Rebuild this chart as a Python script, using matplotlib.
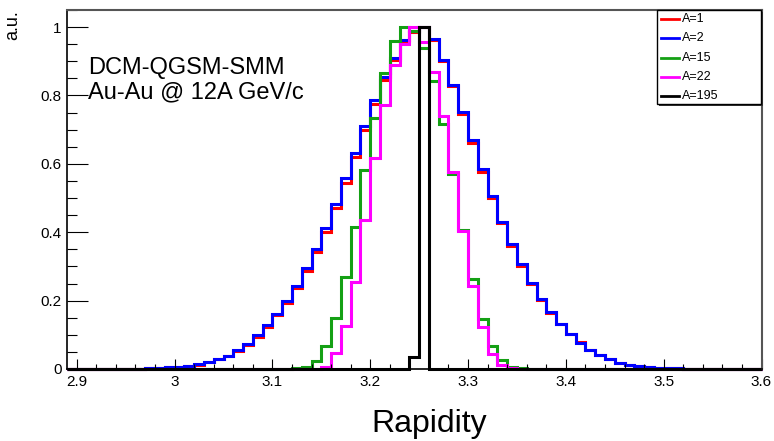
import numpy as np
import matplotlib
matplotlib.use("Agg")
import matplotlib.pyplot as plt
from matplotlib.ticker import MultipleLocator
from matplotlib.patches import Rectangle
from matplotlib.lines import Line2D

plt.rcParams['font.family'] = ['Liberation Sans', 'DejaVu Sans']

# ---------------- data ----------------
bin_lo = 2.89
bin_width = 0.01
n_bins = 71

labels = ["A=1", "A=2", "A=15", "A=22", "A=195"]
colors = ["#ff0000", "#0000ff", "#14a014", "#ff00ff", "#000000"]

# A=1 (bins starting at 2.89 ... 3.59)
a1 = [0, 0, 0, 0, 0, 0.0005, 0.001, 0.001, 0.002, 0.004, 0.005,
      0.007, 0.010, 0.013, 0.020, 0.028, 0.037, 0.053, 0.069, 0.094, 0.124,
      0.157, 0.193, 0.237, 0.286, 0.342, 0.402, 0.470, 0.545, 0.621, 0.699,
      0.775, 0.845, 0.905, 0.958, 0.987, 1.000, 0.963, 0.901, 0.827, 0.746,
      0.662, 0.577, 0.499, 0.426, 0.360, 0.302, 0.248, 0.203, 0.165, 0.133,
      0.103, 0.078, 0.057, 0.042, 0.029, 0.019, 0.013, 0.009, 0.006, 0.004,
      0.003, 0.002, 0.001, 0.001, 0, 0, 0, 0, 0, 0]

# A=2
a2 = [0, 0, 0, 0, 0, 0.0005, 0.001, 0.001, 0.002, 0.004, 0.005,
      0.007, 0.010, 0.014, 0.021, 0.029, 0.039, 0.056, 0.072, 0.098, 0.128,
      0.161, 0.198, 0.244, 0.294, 0.352, 0.412, 0.482, 0.558, 0.633, 0.711,
      0.787, 0.853, 0.911, 0.962, 0.989, 1.000, 0.965, 0.904, 0.830, 0.753,
      0.670, 0.584, 0.507, 0.431, 0.365, 0.306, 0.251, 0.205, 0.166, 0.132,
      0.102, 0.077, 0.056, 0.041, 0.028, 0.018, 0.013, 0.009, 0.006, 0.004,
      0.003, 0.002, 0.001, 0.001, 0, 0, 0, 0, 0, 0]

# A=15
a15 = [0, 0, 0, 0, 0, 0, 0, 0, 0, 0, 0,
       0, 0, 0, 0, 0, 0, 0, 0, 0, 0,
       0, 0, 0.002, 0.006, 0.024, 0.066, 0.148, 0.268, 0.416, 0.582,
       0.733, 0.866, 0.960, 1.000, 0.990, 0.940, 0.843, 0.716, 0.571, 0.406,
       0.262, 0.146, 0.067, 0.026, 0.007, 0.002, 0, 0, 0, 0,
       0, 0, 0, 0, 0, 0, 0, 0, 0, 0,
       0, 0, 0, 0, 0, 0, 0, 0, 0, 0]

# A=22
a22 = [0, 0, 0, 0, 0, 0, 0, 0, 0, 0, 0,
       0, 0, 0, 0, 0, 0, 0, 0, 0, 0,
       0, 0, 0, 0, 0.001, 0.007, 0.046, 0.126, 0.255, 0.436,
       0.616, 0.772, 0.889, 0.952, 1.000, 0.955, 0.869, 0.740, 0.577, 0.404,
       0.243, 0.122, 0.044, 0.012, 0.002, 0, 0, 0, 0, 0,
       0, 0, 0, 0, 0, 0, 0, 0, 0, 0,
       0, 0, 0, 0, 0, 0, 0, 0, 0, 0]

# A=195
a195 = [0, 0, 0, 0, 0, 0, 0, 0, 0, 0, 0,
        0, 0, 0, 0, 0, 0, 0, 0, 0, 0,
        0, 0, 0, 0, 0, 0, 0, 0, 0, 0,
        0, 0, 0, 0, 0.036, 1.0, 0, 0, 0, 0,
        0, 0, 0, 0, 0, 0, 0, 0, 0, 0,
        0, 0, 0, 0, 0, 0, 0, 0, 0, 0,
        0, 0, 0, 0, 0, 0, 0, 0, 0, 0]

series = [a1, a2, a15, a22, a195]

x_ticks = [2.9, 3.0, 3.1, 3.2, 3.3, 3.4, 3.5, 3.6]
x_ticklabels = ["2.9", "3", "3.1", "3.2", "3.3", "3.4", "3.5", "3.6"]
y_ticks = [0, 0.2, 0.4, 0.6, 0.8, 1.0]
y_ticklabels = ["0", "0.2", "0.4", "0.6", "0.8", "1"]

# ---------------- figure ----------------
W, H = 774, 441
fig = plt.figure(figsize=(W / 100, H / 100), dpi=100)

def fx(px):
    return px / W

def fy(py):
    return 1 - py / H

ax = fig.add_axes([fx(67), fy(369), (761.5 - 67) / W, (369 - 10) / H])

edges = bin_lo + bin_width * np.arange(n_bins + 1)
for vals, col in zip(series, colors):
    ax.stairs(vals, edges, color=col, lw=2.2, baseline=0, clip_on=False)

ax.set_xlim(2.89, 3.6)
ax.set_ylim(0, 1.05)
ax.set_xticks(x_ticks)
ax.set_xticklabels(x_ticklabels)
ax.set_yticks(y_ticks)
ax.set_yticklabels(y_ticklabels)
ax.xaxis.set_minor_locator(MultipleLocator(0.02))
ax.yaxis.set_minor_locator(MultipleLocator(0.05))

ax.tick_params(axis='x', which='major', direction='in', length=7.2, width=0.8,
               labelsize=11, pad=4, top=False)
ax.tick_params(axis='x', which='minor', direction='in', length=3.6, width=0.8, top=False)
ax.tick_params(axis='y', which='major', direction='in', length=15, width=0.8,
               labelsize=11, pad=4, right=False)
ax.tick_params(axis='y', which='minor', direction='in', length=7.2, width=0.8, right=False)

for s in ['left', 'bottom']:
    ax.spines[s].set_color('black')
    ax.spines[s].set_linewidth(1.2)
for s in ['top', 'right']:
    ax.spines[s].set_color('#555555')
    ax.spines[s].set_linewidth(1.5)

# texts
fig.text(fx(88), fy(74), "DCM-QGSM-SMM", fontsize=17, va='baseline', ha='left')
fig.text(fx(88), fy(98.3), "Au-Au @ 12A GeV/c", fontsize=17, va='baseline', ha='left')
fig.text(fx(429), fy(424), "Rapidity", fontsize=23, ha='center', va='center')
fig.text(fx(13), fy(10), "a.u.", fontsize=13, rotation=90, ha='center', va='top')

# legend (ROOT style box)
lx0, lx1, ly0, ly1 = 656.7, 760.7, 10, 104
shadow = Rectangle((fx(lx0 + 2), fy(ly1 + 2)), (lx1 - lx0) / W, (ly1 - ly0) / H,
                   transform=fig.transFigure, facecolor='#333333', edgecolor='none', zorder=5)
box = Rectangle((fx(lx0), fy(ly1)), (lx1 - lx0) / W, (ly1 - ly0) / H,
                transform=fig.transFigure, facecolor='white', edgecolor='black', lw=1, zorder=6)
fig.add_artist(shadow)
fig.add_artist(box)
rows = [19.3, 38.3, 57.7, 76.7, 96.0]
for lab, col, ry in zip(labels, colors, rows):
    fig.add_artist(Line2D([fx(661), fx(679)], [fy(ry), fy(ry)], color=col, lw=2.0,
                          transform=fig.transFigure, zorder=7))
    fig.text(fx(682), fy(ry), lab, fontsize=9, ha='left', va='center', zorder=7)

fig.savefig("out.png", dpi=100)
